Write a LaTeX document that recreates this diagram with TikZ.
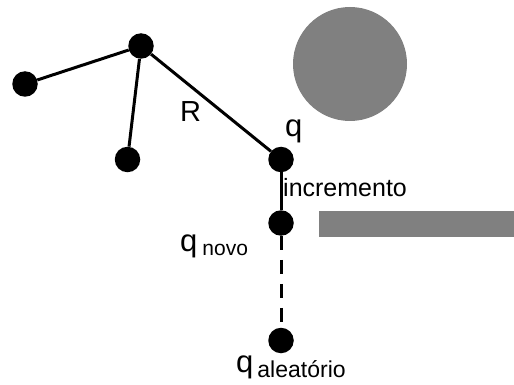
\documentclass[tikz,border=0pt]{standalone}
\usepackage{fontspec}
\setmainfont{Liberation Sans}
\definecolor{obstaclegray}{RGB}{128,128,128}
\begin{document}
\begin{tikzpicture}[x=1pt,y=-1pt,
    vertex/.style={circle,fill=black,inner sep=0pt,minimum size=25.5pt},
    edge/.style={line width=3pt},
    obstacle/.style={fill=obstaclegray},
    lbl/.style={inner sep=0pt,anchor=base west}]
  \useasboundingbox (0,0) rectangle (514,385);
  % obstacles
  \fill[obstacle] (350,64) circle (57);
  \fill[obstacle] (319,211) rectangle (514,237);
  % tree vertices
  \node[vertex] (hub) at (141,46) {};
  \node[vertex] (left) at (25,84) {};
  \node[vertex] (low) at (127.5,159.5) {};
  \node[vertex] (q) at (281,159.5) {};
  \node[vertex] (qn) at (281,223) {};
  \node[vertex] (qa) at (281,340.5) {};
  % tree edges
  \draw[edge] (hub) -- (left);
  \draw[edge] (hub) -- (low);
  \draw[edge] (hub) -- (q);
  \draw[edge] (q) -- (qn);
  \draw[edge,dash pattern=on 14pt off 10pt] (qn) -- (qa);
  % labels
  \node[lbl,font=\fontsize{29}{29}\selectfont] (rlab) at (180,122) {R};
  \node[lbl,font=\fontsize{31}{31}\selectfont] (qlab) at (285,136) {q};
  \node[lbl,font=\fontsize{25}{25}\selectfont] (inc) at (283,196) {incremento};
  \node[lbl,font=\fontsize{31}{31}\selectfont] (qnlab) at (180,251)
    {q\hspace{5pt}\raisebox{-4pt}{\fontsize{21}{21}\selectfont novo}};
  \node[lbl,font=\fontsize{31}{31}\selectfont] (qalab) at (236,372)
    {q\hspace{4pt}\raisebox{-5pt}{\fontsize{23}{23}\selectfont aleatório}};
\end{tikzpicture}
\end{document}
